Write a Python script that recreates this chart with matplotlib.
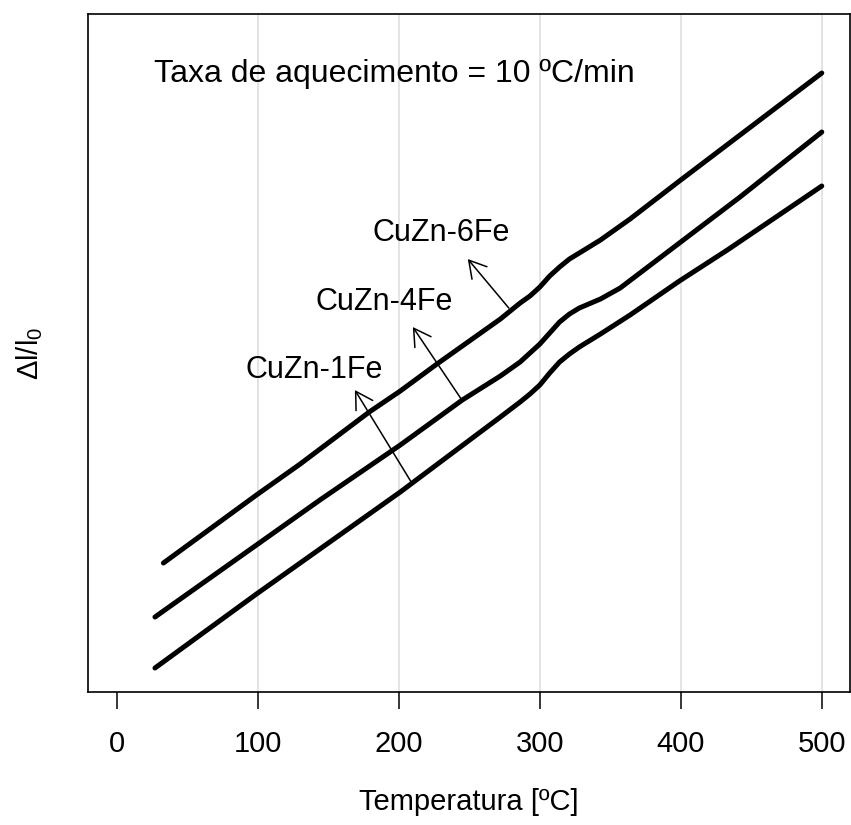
import numpy as np
import matplotlib.pyplot as plt

plt.rcParams['font.family'] = ['Liberation Sans', 'DejaVu Sans']
plt.rcParams['mathtext.fontset'] = 'custom'
plt.rcParams['mathtext.rm'] = 'Liberation Sans'
plt.rcParams['mathtext.it'] = 'Liberation Sans'

# curvas de dilatação (Δl/l0 em unidades arbitrárias)
temp_1fe = [27, 99, 201, 272, 286, 293, 300, 307, 314, 321, 328, 343, 364, 399, 433, 500]
dl_1fe = [0.24, 0.98, 2.00, 2.75, 2.90, 2.98, 3.07, 3.19, 3.30, 3.38, 3.45, 3.58, 3.77, 4.11, 4.42, 5.06]

temp_4fe = [27, 99, 144, 201, 245, 272, 286, 300, 307, 314, 321, 328, 343, 357, 371, 399, 442, 500]
dl_4fe = [0.75, 1.47, 1.92, 2.47, 2.92, 3.16, 3.30, 3.48, 3.59, 3.70, 3.78, 3.84, 3.93, 4.04, 4.19, 4.49, 4.95, 5.60]

temp_6fe = [33, 99, 130, 179, 201, 227, 257, 272, 279, 286, 293, 300, 307, 314, 321, 328, 343, 364, 399, 442, 500]
dl_6fe = [1.29, 1.97, 2.28, 2.80, 3.01, 3.28, 3.58, 3.73, 3.81, 3.89, 3.96, 4.05, 4.16, 4.25, 4.33, 4.39, 4.52, 4.73, 5.11, 5.57, 6.19]

# rótulos e setas: (texto, posição do texto, base da seta, ponta da seta)
labels = ['CuZn-1Fe', 'CuZn-4Fe', 'CuZn-6Fe']
label_xy = [(139.7, 3.22), (189.4, 3.90), (229.8, 4.59)]
arrow_base = [(209.2, 2.09), (244.7, 2.92), (278.0, 3.84)]
arrow_tip = [(168.8, 3.02), (209.9, 3.65), (248.9, 4.33)]

xticks = [0, 100, 200, 300, 400, 500]
grid_x = [100, 200, 300, 400, 500]

fig = plt.figure(figsize=(8.51, 8.25), dpi=100)
ax = fig.add_axes([0.1034, 0.1612, 0.8954, 0.8218])

for gx in grid_x:
    ax.axvline(gx, color='#dcdcdc', lw=1.1, zorder=0)

for t, d in [(temp_1fe, dl_1fe), (temp_4fe, dl_4fe), (temp_6fe, dl_6fe)]:
    ax.plot(t, d, 'k-', lw=3.6, solid_capstyle='round', solid_joinstyle='round', zorder=3)

for lab, lxy, base, tip in zip(labels, label_xy, arrow_base, arrow_tip):
    ax.annotate('', xy=tip, xytext=base,
                arrowprops=dict(arrowstyle='->, head_length=0.6, head_width=0.35',
                                lw=1.1, color='k', shrinkA=0, shrinkB=0, mutation_scale=20))
    ax.text(lxy[0], lxy[1], lab, ha='center', va='center', fontsize=22)

ax.text(197, 6.18, 'Taxa de aquecimento = 10 ºC/min', ha='center', va='center', fontsize=23)

ax.set_xlim(-20.5, 520)
ax.set_ylim(0, 6.78)
ax.set_xticks(xticks)
ax.set_yticks([])
ax.tick_params(axis='x', direction='out', length=12, width=1.1, pad=15, labelsize=21)
for sp in ax.spines.values():
    sp.set_linewidth(1.2)

ax.set_xlabel('Temperatura [ºC]', fontsize=21, labelpad=22)
ax.set_ylabel(r'$\Delta$l/l$_0$', fontsize=21, labelpad=31)

fig.savefig('out.png', dpi=100)
